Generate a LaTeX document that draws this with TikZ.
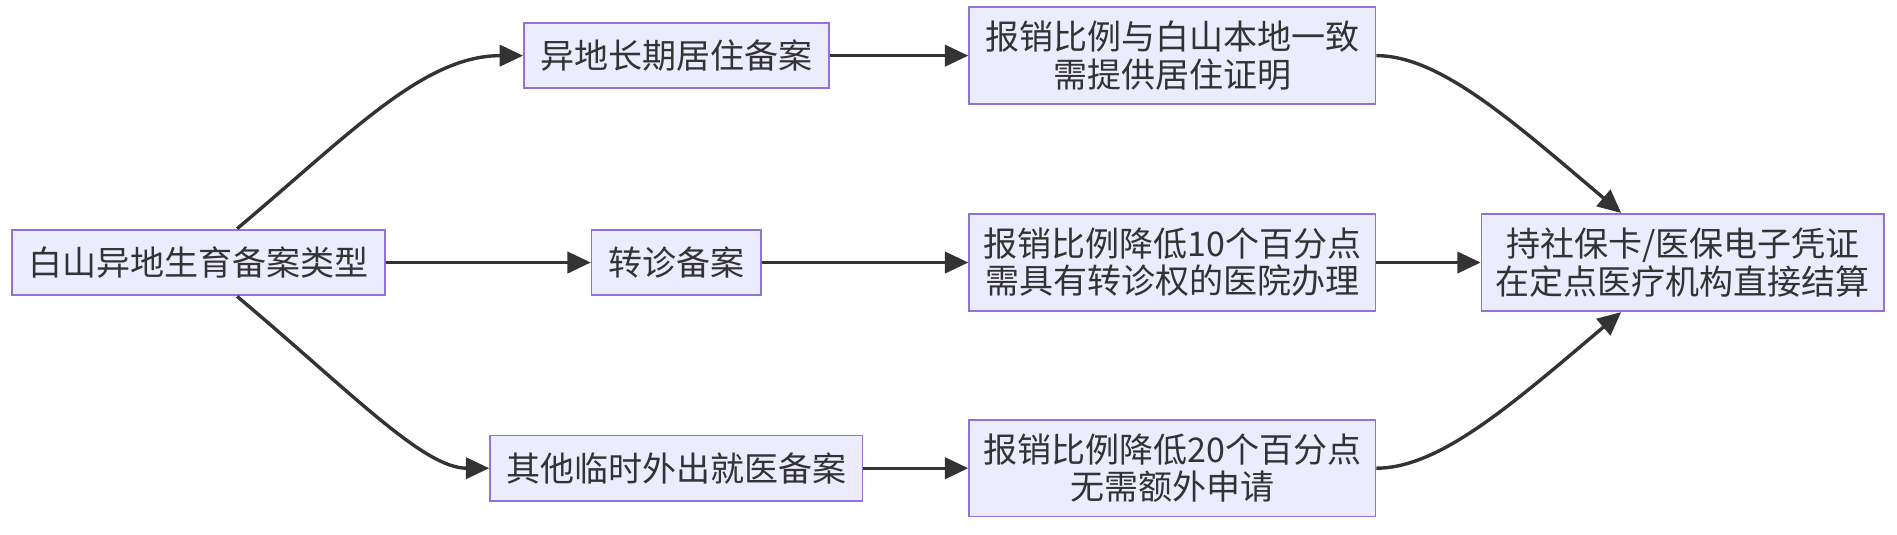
\documentclass[tikz,border=0pt]{standalone}
\usepackage{fontspec}
\setmainfont{Noto Sans CJK SC}
\usetikzlibrary{arrows.meta}
\definecolor{nf}{HTML}{ECECFF}
\definecolor{nb}{HTML}{9370DB}
\definecolor{ln}{HTML}{333333}
\begin{document}
\begin{tikzpicture}[x=0.02cm,y=-0.02cm,
  box/.style={draw=nb,fill=nf,line width=0.8pt,inner sep=0pt,align=center,font=\fontsize{16}{17.5}\selectfont,text=ln},
  ar/.style={draw=ln,line width=1.6pt,-{Triangle[length=11pt,width=10pt]}}]
\useasboundingbox (0,0) rectangle (1568,442);
\node[box,minimum width=6.16cm,minimum height=1.08cm] (A) at (164,217) {白山异地生育备案类型};
\node[box,minimum width=5.04cm,minimum height=1.08cm] (B) at (559,46) {异地长期居住备案};
\node[box,minimum width=2.8cm,minimum height=1.08cm] (C) at (559,217) {转诊备案};
\node[box,minimum width=6.16cm,minimum height=1.08cm] (D) at (559,387) {其他临时外出就医备案};
\node[box,minimum width=6.72cm,minimum height=1.6cm] (E) at (969,46) {报销比例与白山本地一致\\需提供居住证明};
\node[box,minimum width=6.72cm,minimum height=1.6cm] (F) at (969,217) {报销比例降低10个百分点\\需具有转诊权的医院办理};
\node[box,minimum width=6.72cm,minimum height=1.6cm] (G) at (969,387) {报销比例降低20个百分点\\无需额外申请};
\node[box,minimum width=6.66cm,minimum height=1.6cm] (H) at (1391,217) {持社保卡/医保电子凭证\\在定点医疗机构直接结算};
\draw[ar] (196,189) .. controls (290,110) and (350,46) .. (B.west);
\draw[ar] (A) -- (C);
\draw[ar] (196,245) .. controls (290,324) and (350,387) .. (D.west);
\draw[ar] (B) -- (E);
\draw[ar] (C) -- (F);
\draw[ar] (D) -- (G);
\draw[ar] (E.east) .. controls (1190,46) and (1250,100) .. (1340,176);
\draw[ar] (F) -- (H);
\draw[ar] (G.east) .. controls (1190,387) and (1250,334) .. (1340,258);
\end{tikzpicture}
\end{document}
